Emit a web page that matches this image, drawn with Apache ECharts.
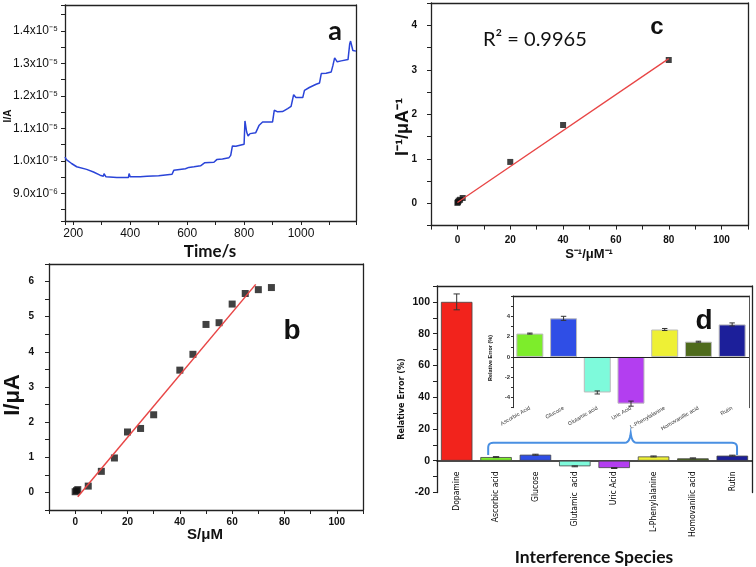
<!DOCTYPE html>
<html>
<head>
<meta charset="utf-8">
<script src="https://cdn.jsdelivr.net/npm/echarts@6/dist/echarts.min.js"></script>
<style>
  html, body { margin: 0; padding: 0; background: #fff; }
  #chart { width: 756px; height: 567px; }
</style>
</head>
<body>
<div id="chart"></div>
<script>
// ---- panel a: amperometric response ----
const timeS = [171, 176, 194, 212, 247, 271, 294, 306, 308, 315, 353, 359, 365, 394, 396, 400, 435, 459, 461, 465,
  500, 506, 547, 553, 559, 594, 600, 606, 624, 647, 661, 694, 704, 724, 747, 753, 759, 765, 771, 776,
  800, 803, 809, 814, 821, 841, 847, 853, 865, 900, 906, 918, 935, 953, 965, 974, 982, 1006, 1012, 1029,
  1053, 1065, 1071, 1088, 1106, 1112, 1118, 1127, 1141, 1165, 1171, 1174, 1182, 1193]
const currentA = [1.012e-5, 1.004e-5, 0.992e-5, 0.982e-5, 0.974e-5, 0.966e-5, 0.956e-5, 0.953e-5, 0.961e-5, 0.951e-5,
  0.949e-5, 0.954e-5, 0.949e-5, 0.949e-5, 0.961e-5, 0.951e-5, 0.951e-5, 0.953e-5, 0.957e-5, 0.953e-5,
  0.954e-5, 0.959e-5, 0.959e-5, 0.971e-5, 0.974e-5, 0.976e-5, 0.982e-5, 0.980e-5, 0.982e-5, 0.985e-5,
  0.994e-5, 0.996e-5, 1.004e-5, 1.006e-5, 1.010e-5, 1.017e-5, 1.046e-5, 1.042e-5, 1.045e-5, 1.045e-5,
  1.051e-5, 1.123e-5, 1.089e-5, 1.077e-5, 1.084e-5, 1.087e-5, 1.092e-5, 1.110e-5, 1.120e-5, 1.120e-5,
  1.156e-5, 1.151e-5, 1.152e-5, 1.161e-5, 1.168e-5, 1.204e-5, 1.195e-5, 1.195e-5, 1.217e-5, 1.226e-5,
  1.236e-5, 1.240e-5, 1.269e-5, 1.270e-5, 1.274e-5, 1.294e-5, 1.317e-5, 1.305e-5, 1.308e-5, 1.312e-5,
  1.361e-5, 1.369e-5, 1.340e-5, 1.338e-5]

// ---- panel b: calibration ----
const concUM = [0, 0.5, 1, 5, 10, 15, 20, 25, 30, 40, 45, 50, 55, 60, 65, 70, 75]
const currentUA = [0.02, 0.05, 0.08, 0.18, 0.60, 0.98, 1.72, 1.82, 2.21, 3.48, 3.93, 4.78, 4.83, 5.36, 5.66, 5.77, 5.83]
const fitB_x = [1, 69]
const fitB_y = [-0.12, 5.92]

// ---- panel c: Lineweaver-Burk ----
const invConc = [0, 0.2, 0.5, 1, 2, 20, 40, 80]
const invCurrent = [0.01, 0.03, 0.06, 0.08, 0.12, 0.93, 1.76, 3.22]
const fitC_x = [0, 80]
const fitC_y = [0.02, 3.25]

// ---- panel d: interference ----
const species = ['Dopamine', 'Ascorbic acid', 'Glucose', 'Glutamic  acid', 'Uric Acid', 'L-Phenylalanine', 'Homovanilic acid', 'Rutin']
const relError = [100, 2.3, 3.8, -3.5, -4.6, 2.7, 1.5, 3.2]
const relErrorSd = [5, 0.3, 0.3, 0.3, 0.3, 0.3, 0.3, 0.3]
const insetSpecies = ['Ascorbic Acid', 'Glucose', 'Glutamic acid', 'Uric Acid', 'L-Phenylalanine', 'Homovanillic acid', 'Rutin']
const insetError = [2.3, 3.8, -3.5, -4.6, 2.7, 1.5, 3.2]
const insetSd = [0.05, 0.2, 0.15, 0.25, 0.1, 0.05, 0.15]
const barColors = ['#f2231c', '#7ded2b', '#2f4ee6', '#7efadb', '#b33ef0', '#eef035', '#4f6b1c', '#1c1f9a']

const FRAME = '#222'
const ARIAL = '"Liberation Sans", Arial, sans-serif'
const NARROW = '"Liberation Sans Narrow", "DejaVu Sans Condensed", "Liberation Sans", sans-serif'

const chart = echarts.init(document.getElementById('chart'))

function zip(a, b) { return a.map((v, i) => [v, b[i]]) }

function frameAxis(grid, pos, min, max) {
  return {
    type: 'value', gridIndex: grid, position: pos, min, max,
    axisLine: { show: true, onZero: false, lineStyle: { color: FRAME, width: 1.3 } },
    axisTick: { show: false }, axisLabel: { show: false }, splitLine: { show: false }
  }
}

function valueAxis(grid, pos, min, max, extra) {
  return Object.assign({
    type: 'value', gridIndex: grid, position: pos, min, max,
    axisLine: { show: true, onZero: false, lineStyle: { color: FRAME, width: 1.3 } },
    axisTick: { show: true, length: 4, lineStyle: { color: FRAME } },
    splitLine: { show: false }
  }, extra)
}

function errorBars(params, api) {
  const x = api.value(0)
  const y = api.value(1)
  const e = api.value(2)
  const hi = api.coord([x, y + e])
  const lo = api.coord([x, y - e])
  const w = api.size([1, 0])[0] * 0.08
  const style = { stroke: '#333', lineWidth: 1 }
  return {
    type: 'group',
    children: [
      { type: 'line', shape: { x1: hi[0], y1: hi[1], x2: lo[0], y2: lo[1] }, style },
      { type: 'line', shape: { x1: hi[0] - w, y1: hi[1], x2: hi[0] + w, y2: hi[1] }, style },
      { type: 'line', shape: { x1: lo[0] - w, y1: lo[1], x2: lo[0] + w, y2: lo[1] }, style }
    ]
  }
}

function formatAmp(v) {
  const m = v * 1e6
  if (Math.abs(m - Math.round(m)) > 1e-3) return ''
  const r = Math.round(m)
  return r < 10 ? r.toFixed(1) + 'x10⁻⁶' : (r / 10).toFixed(1) + 'x10⁻⁵'
}

const boldTick = { fontFamily: ARIAL, fontWeight: 'bold', fontSize: 10, color: '#111' }

const option = {
  animation: false,
  backgroundColor: '#fff',
  grid: [
    { left: 65, top: 5, right: 400, bottom: 346, outerBoundsMode: 'none' },
    { left: 431, top: 3, right: 8, bottom: 341.4, outerBoundsMode: 'none' },
    { left: 49, top: 264, right: 393, bottom: 57, outerBoundsMode: 'none' },
    { left: 437, top: 286, right: 4, bottom: 74.5, outerBoundsMode: 'none' },
    { left: 513, top: 296, right: 7, bottom: 159.3, outerBoundsMode: 'none' }
  ],
  xAxis: [
    // 0: a bottom
    valueAxis(0, 'bottom', 171, 1193, {
      splitNumber: 10,
      axisLabel: { margin: 7, fontFamily: ARIAL, fontSize: 12, color: '#111', formatter: v => (v % 200 === 0 ? v : '') }
    }),
    frameAxis(0, 'top', 171, 1193),
    // 2: c bottom
    valueAxis(1, 'bottom', -10, 110, {
      interval: 10,
      axisLabel: Object.assign({ margin: 10, formatter: v => (v % 20 === 0 && v >= 0 && v <= 100 ? v : '') }, boldTick)
    }),
    frameAxis(1, 'top', -10, 110),
    // 4: b bottom
    valueAxis(2, 'bottom', -10, 110, {
      interval: 10,
      axisLabel: Object.assign({ margin: 7, formatter: v => (v % 20 === 0 && v >= 0 && v <= 100 ? v : '') }, boldTick)
    }),
    frameAxis(2, 'top', -10, 110),
    // 6: d bottom (line on zero, labels hang just under it)
    {
      type: 'category', gridIndex: 3, data: species,
      axisLine: { show: true, onZero: true, onZeroAxisIndex: 6, lineStyle: { color: '#111', width: 1.5 } },
      axisTick: { show: false },
      axisLabel: { interval: 0, rotate: 90, margin: -21, fontFamily: NARROW, fontSize: 8.5, color: '#000' }
    },
    frameAxis(3, 'top', 0, 1),
    // 8: inset bottom (labels)
    {
      type: 'category', gridIndex: 4, data: insetSpecies,
      axisLine: { show: false, onZero: false },
      axisTick: { show: false },
      axisLabel: { interval: 0, rotate: 30, margin: 0, fontFamily: ARIAL, fontSize: 5.5, color: '#333' }
    },
    frameAxis(4, 'top', 0, 1)
  ],
  yAxis: [
    // 0: a left
    valueAxis(0, 'left', 0.815e-5, 1.48e-5, {
      splitNumber: 13,
      axisLabel: { margin: 7, fontFamily: ARIAL, fontSize: 12, color: '#111', formatter: formatAmp }
    }),
    frameAxis(0, 'right', 0.815e-5, 1.48e-5),
    // 2: c left
    valueAxis(1, 'left', -0.5, 4.5, {
      interval: 0.5,
      axisLabel: Object.assign({ margin: 14, formatter: v => (Number.isInteger(v) && v >= 0 ? v : '') }, boldTick)
    }),
    frameAxis(1, 'right', -0.5, 4.5),
    // 4: b left
    valueAxis(2, 'left', -0.5, 6.5, {
      interval: 0.5,
      axisLabel: Object.assign({ margin: 15, formatter: v => (Number.isInteger(v) && v >= 0 ? v : '') }, boldTick)
    }),
    frameAxis(2, 'right', -0.5, 6.5),
    // 6: d left
    valueAxis(3, 'left', -20, 110, {
      interval: 10,
      axisLabel: Object.assign({ margin: 7, formatter: v => (v % 20 === 0 && v <= 100 ? v : '') }, boldTick, { fontSize: 10.5 })
    }),
    frameAxis(3, 'right', -20, 110),
    // 8: inset left
    valueAxis(4, 'left', -5, 6, {
      interval: 1,
      axisLine: { show: true, onZero: false, lineStyle: { color: '#333', width: 1 } },
      axisTick: { show: true, length: 2, lineStyle: { color: '#333' } },
      axisLabel: { margin: 3, fontFamily: ARIAL, fontWeight: 'bold', fontSize: 6, color: '#333', formatter: v => (v % 2 === 0 && v > -5 && v < 6 ? v : '') }
    }),
    Object.assign(frameAxis(4, 'right', -5, 6), { axisLine: { show: true, onZero: false, lineStyle: { color: '#555', width: 1 } } })
  ],
  series: [
    {
      type: 'line', xAxisIndex: 0, yAxisIndex: 0, data: zip(timeS, currentA),
      showSymbol: false, lineStyle: { color: '#2a44d8', width: 1.5 }
    },
    {
      type: 'line', xAxisIndex: 4, yAxisIndex: 4, data: zip(fitB_x, fitB_y),
      showSymbol: false, lineStyle: { color: '#e84545', width: 1.5 }
    },
    {
      type: 'scatter', xAxisIndex: 4, yAxisIndex: 4, data: zip(concUM, currentUA),
      symbol: 'rect', symbolSize: 7, itemStyle: { color: '#111' }
    },
    {
      type: 'line', xAxisIndex: 2, yAxisIndex: 2, data: zip(fitC_x, fitC_y),
      showSymbol: false, lineStyle: { color: '#e84545', width: 1.3 }
    },
    {
      type: 'scatter', xAxisIndex: 2, yAxisIndex: 2, data: zip(invConc, invCurrent),
      symbol: 'rect', symbolSize: 6, itemStyle: { color: '#111' }
    },
    {
      type: 'bar', xAxisIndex: 6, yAxisIndex: 6, barWidth: '80%',
      data: relError.map((v, i) => ({ value: v, itemStyle: { color: barColors[i] } })),
      itemStyle: { borderColor: '#444', borderWidth: 0.8 }
    },
    {
      type: 'custom', xAxisIndex: 6, yAxisIndex: 6, renderItem: errorBars,
      encode: { x: 0, y: 1 }, z: 5,
      data: relError.map((v, i) => [i, v, relErrorSd[i]])
    },
    {
      type: 'bar', xAxisIndex: 8, yAxisIndex: 8, barWidth: '80%',
      data: insetError.map((v, i) => ({ value: v, itemStyle: { color: barColors[i + 1] } })),
      itemStyle: { borderColor: '#bbb', borderWidth: 1 },
      markLine: {
        silent: true, symbol: 'none', label: { show: false },
        lineStyle: { color: '#222', width: 1, type: 'solid' },
        data: [{ yAxis: 0 }]
      }
    },
    {
      type: 'custom', xAxisIndex: 8, yAxisIndex: 8, renderItem: errorBars,
      encode: { x: 0, y: 1 }, z: 5,
      data: insetError.map((v, i) => [i, v, insetSd[i]])
    }
  ]
}

chart.setOption(option)

// blue brace grouping the interferents (category positions / values on the d axes)
const c1 = chart.convertToPixel({ xAxisIndex: 6, yAxisIndex: 6 }, [1, 0])
const c7 = chart.convertToPixel({ xAxisIndex: 6, yAxisIndex: 6 }, [7, 0])
const catPx = i => c1[0] + (i - 1) * (c7[0] - c1[0]) / 6
const valPx = v => chart.convertToPixel({ xAxisIndex: 6, yAxisIndex: 6 }, [1, v])[1]
const xL = catPx(0.8), xR = catPx(7.12), xP = catPx(4.42)
const yLeg = valPx(3.6), yBar = valPx(11.3), yPeak = valPx(17.4)

function quad(p0, p1, p2, n) {
  const out = []
  for (let k = 1; k <= n; k++) {
    const t = k / n
    out.push([
      (1 - t) * (1 - t) * p0[0] + 2 * (1 - t) * t * p1[0] + t * t * p2[0],
      (1 - t) * (1 - t) * p0[1] + 2 * (1 - t) * t * p1[1] + t * t * p2[1]
    ])
  }
  return out
}
const rr = 5
const brace = [[xL, yLeg], [xL, yBar + rr]]
  .concat(quad([xL, yBar + rr], [xL, yBar], [xL + rr, yBar], 6))
  .concat([[xP - 6, yBar]])
  .concat(quad([xP - 6, yBar], [xP - 1, yBar], [xP, yPeak], 6))
  .concat(quad([xP, yPeak], [xP + 1, yBar], [xP + 6, yBar], 6))
  .concat([[xR - rr, yBar]])
  .concat(quad([xR - rr, yBar], [xR, yBar], [xR, yBar + rr], 6))
  .concat([[xR, yLeg]])

function label(x, y, text, font, rot) {
  return {
    type: 'text', x, y, rotation: rot ? Math.PI / 2 : 0, z: 100,
    style: { text, font, fill: '#111', align: 'center', verticalAlign: 'middle' }
  }
}

chart.setOption({
  graphic: [
    { type: 'polyline', z: 1, shape: { points: brace }, style: { fill: null, stroke: '#4a90e2', lineWidth: 2 } },
    label(8, 116, 'I/A', 'bold 10px ' + ARIAL, true),
    label(210, 252, 'Time/s', 'bold 17px Lato, "Open Sans", sans-serif'),
    label(403, 127, 'I⁻¹/μA⁻¹', 'bold 18px ' + ARIAL, true),
    label(589, 254, 'S⁻¹/μM⁻¹', 'bold 13px ' + ARIAL),
    label(13, 395, 'I/μA', 'bold 22px ' + ARIAL, true),
    label(205, 535, 'S/μM', 'bold 15px ' + ARIAL),
    label(402, 399, 'Relative Error (%)', 'bold 9px ' + NARROW, true),
    label(594, 557, 'Interference Species', 'bold 17.5px Lato, "Open Sans", sans-serif'),
    label(490, 358, 'Relative Error (%)', 'bold 5.5px ' + ARIAL, true),
    {
      type: 'text', x: 483, y: 40, z: 100,
      style: { text: 'R² = 0.9965', font: '20px Lato, "Open Sans", sans-serif', fill: '#111', align: 'left', verticalAlign: 'middle' }
    },
    label(335, 31, 'a', 'bold 27px Lato, ' + ARIAL),
    label(657, 27, 'c', '900 24px ' + ARIAL),
    label(292, 331, 'b', 'bold 28px ' + ARIAL),
    label(704, 321, 'd', 'bold 28px ' + ARIAL)
  ]
})
</script>
</body>
</html>
